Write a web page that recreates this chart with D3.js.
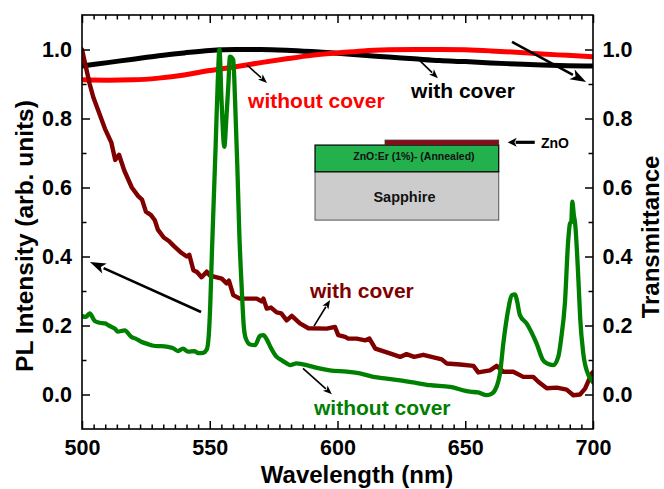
<!DOCTYPE html>
<html><head><meta charset="utf-8">
<script src="https://cdn.jsdelivr.net/npm/d3@7"></script>
<style>
body{margin:0;background:#fff}
svg{display:block}
text{font-family:"Liberation Sans",Arial,sans-serif;font-weight:bold}
</style>
</head><body>
<svg id="c" width="664" height="489"></svg>
<script>
// ---------- data ----------
const xTicks=[500,550,600,650,700];
const yTicks=[0,0.2,0.4,0.6,0.8,1.0];

// Transmittance, with cover (black)
const transWithCover=[[500,0.952],[510,0.962],[520,0.972],[530,0.982],[540,0.99],[550,0.997],[560,1.0],[570,1.0],[580,0.998],[590,0.994],[600,0.989],[610,0.983],[620,0.978],[630,0.973],[640,0.968],[650,0.965],[660,0.961],[670,0.958],[680,0.955],[690,0.953],[700,0.952]];
// Transmittance, without cover (red)
const transWithoutCover=[[500,0.912],[510,0.911],[520,0.912],[530,0.917],[540,0.926],[550,0.939],[560,0.95],[570,0.962],[580,0.973],[590,0.983],[600,0.99],[610,0.996],[620,0.999],[630,1.0],[640,1.0],[650,0.999],[660,0.996],[670,0.992],[680,0.987],[690,0.983],[700,0.979]];
// PL, with cover (dark red)
const plWithCover=[[500,1.0],[501.5,0.95],[503,0.9],[504.5,0.86],[506.5,0.82],[509,0.77],[511.5,0.73],[513,0.68],[514.5,0.695],[516.5,0.65],[519.5,0.6],[522,0.575],[523.5,0.565],[525,0.53],[527,0.52],[528.5,0.505],[529.7,0.478],[532,0.455],[534,0.445],[536,0.43],[539,0.41],[541,0.4],[542,0.405],[543.6,0.36],[545,0.355],[546.8,0.34],[548.8,0.356],[550,0.345],[552,0.341],[554.7,0.336],[556.6,0.322],[557.5,0.33],[559.2,0.288],[561.8,0.278],[568.4,0.278],[570.3,0.27],[571,0.278],[572.3,0.249],[574,0.252],[576.2,0.238],[578,0.235],[580.1,0.215],[582.1,0.228],[585.3,0.206],[588.6,0.192],[595.8,0.191],[599,0.196],[600.3,0.172],[603,0.167],[604.2,0.162],[607.5,0.162],[610.9,0.157],[612.5,0.162],[614.8,0.133],[620.5,0.119],[624.5,0.109],[627,0.117],[630,0.109],[633.6,0.115],[640.8,0.102],[642.7,0.09],[648,0.087],[653.2,0.083],[655.1,0.064],[659.7,0.07],[662.3,0.083],[664.9,0.066],[668.8,0.066],[672.7,0.051],[676.6,0.051],[678.6,0.037],[681.9,0.018],[685.8,0.02],[689.7,0.014],[692.3,-0.002],[694.9,0.0],[696.9,0.017],[699.5,0.061],[700,0.065]];
// PL, without cover (green)
const plWithoutCover=[[500,0.227],[501.5,0.225],[503,0.235],[505,0.213],[507,0.208],[509,0.206],[510.5,0.2],[511.5,0.196],[513,0.19],[514,0.182],[516.7,0.186],[519.3,0.167],[521,0.162],[523.2,0.153],[525.8,0.146],[527.5,0.142],[529.7,0.14],[531,0.14],[533.7,0.138],[535.5,0.135],[537.6,0.126],[539.5,0.133],[541.5,0.124],[544.1,0.126],[545.5,0.12],[547.4,0.121],[548.8,0.13],[549.6,0.17],[550.2,0.26],[550.8,0.4],[551.5,0.55],[552.3,0.72],[553.1,0.9],[553.8,1.0],[554.6,0.854],[555.7,0.718],[556.5,0.8],[557.3,0.9],[557.9,0.979],[559.2,0.97],[559.9,0.854],[560.8,0.66],[561.6,0.46],[562.5,0.31],[563.3,0.2],[564,0.165],[565.8,0.145],[567.7,0.143],[569.7,0.17],[571,0.172],[572.3,0.16],[573.6,0.14],[576.2,0.109],[578,0.1],[580.1,0.09],[581.4,0.085],[584,0.09],[586,0.088],[590.5,0.08],[592,0.077],[597,0.07],[603.6,0.066],[608.8,0.061],[614,0.051],[619.3,0.046],[624.5,0.041],[629.7,0.035],[636.2,0.027],[644,0.022],[651.9,0.008],[655,0.006],[658.4,-0.002],[660.5,0.003],[661.6,0.012],[663,0.04],[663.6,0.061],[664.9,0.148],[666.8,0.245],[668.2,0.288],[669.5,0.29],[670.3,0.27],[671.4,0.23],[674,0.206],[677.9,0.148],[680.5,0.099],[682,0.09],[684.4,0.085],[686.4,0.109],[687.5,0.16],[689,0.264],[690.3,0.447],[691,0.496],[691.5,0.5],[691.9,0.559],[692.5,0.52],[693,0.496],[694.3,0.331],[695,0.22],[696.2,0.119],[698,0.06],[699.5,0.041],[700,0.035]];

// ---------- layout ----------
const L=82,R=593,T=15,B=429;
const svg=d3.select("#c");
const x=d3.scaleLinear().domain([500,700]).range([L,R]);
const y=d3.scaleLinear().domain([-0.1,1.1]).range([B,T]);

const xMinor=[];
for(let i=0;i<xTicks.length-1;i++){const a=xTicks[i],b=xTicks[i+1];for(let k=1;k<=10;k++)xMinor.push(a+(b-a)*k/11);}
const yMinor=[];
for(let i=0;i<yTicks.length-1;i++)yMinor.push((yTicks[i]+yTicks[i+1])/2);

svg.append("defs").append("clipPath").attr("id","clip").append("rect")
  .attr("x",L).attr("y",T).attr("width",R-L).attr("height",B-T);

// ---------- lines ----------
const lineSmooth=d3.line().x(d=>x(d[0])).y(d=>y(d[1])).curve(d3.curveMonotoneX);
const lineRaw=d3.line().x(d=>x(d[0])).y(d=>y(d[1])).curve(d3.curveLinear);
const gL=svg.append("g").attr("clip-path","url(#clip)");
function draw(data,gen,color,w){
  gL.append("path").attr("d",gen(data)).attr("fill","none").attr("stroke",color)
    .attr("stroke-width",w).attr("stroke-linejoin","round").attr("stroke-linecap","round");
}
draw(transWithCover,lineSmooth,"#000000",5);
draw(transWithoutCover,lineSmooth,"#ff0000",5);
draw(plWithCover,lineRaw,"#800000",4.4);
draw(plWithoutCover,lineSmooth,"#008000",4.3);

// ---------- axes ----------
function styleAxis(g,fs){
  g.select(".domain").remove();
  g.selectAll(".tick line").attr("stroke","#000").attr("stroke-width",1.5);
  g.selectAll("text").attr("font-size",fs).attr("fill","#000")
   .attr("font-family",'"Liberation Sans",Arial,sans-serif').attr("font-weight","bold");
}
const tickFS=21.5;
svg.append("g").attr("transform",`translate(0,${B})`)
  .call(d3.axisBottom(x).tickValues(xTicks).tickSizeInner(-8).tickSizeOuter(0).tickPadding(11).tickFormat(d3.format("d")))
  .call(g=>styleAxis(g,tickFS));
svg.append("g").attr("transform",`translate(0,${B})`)
  .call(d3.axisBottom(x).tickValues(xMinor).tickSizeInner(-4.5).tickSizeOuter(0).tickFormat(""))
  .call(g=>styleAxis(g,tickFS));
svg.append("g").attr("transform",`translate(0,${T})`)
  .call(d3.axisTop(x).tickValues(xTicks).tickSizeInner(-8).tickSizeOuter(0).tickFormat(""))
  .call(g=>styleAxis(g,tickFS));
svg.append("g").attr("transform",`translate(0,${T})`)
  .call(d3.axisTop(x).tickValues(xMinor).tickSizeInner(-4.5).tickSizeOuter(0).tickFormat(""))
  .call(g=>styleAxis(g,tickFS));
svg.append("g").attr("transform",`translate(${L},0)`)
  .call(d3.axisLeft(y).tickValues(yTicks).tickSizeInner(-8).tickSizeOuter(0).tickPadding(10).tickFormat(d3.format(".1f")))
  .call(g=>styleAxis(g,tickFS));
svg.append("g").attr("transform",`translate(${L},0)`)
  .call(d3.axisLeft(y).tickValues(yMinor).tickSizeInner(-4.5).tickSizeOuter(0).tickFormat(""))
  .call(g=>styleAxis(g,tickFS));
svg.append("g").attr("transform",`translate(${R},0)`)
  .call(d3.axisRight(y).tickValues(yTicks).tickSizeInner(-8).tickSizeOuter(0).tickPadding(9.5).tickFormat(d3.format(".1f")))
  .call(g=>styleAxis(g,tickFS));
svg.append("g").attr("transform",`translate(${R},0)`)
  .call(d3.axisRight(y).tickValues(yMinor).tickSizeInner(-4.5).tickSizeOuter(0).tickFormat(""))
  .call(g=>styleAxis(g,tickFS));

svg.append("rect").attr("x",L).attr("y",T).attr("width",R-L).attr("height",B-T)
  .attr("fill","none").attr("stroke","#000").attr("stroke-width",1.6);

// titles
svg.append("text").attr("x",357).attr("y",482.5).attr("text-anchor","middle")
  .attr("font-size",24).text("Wavelength (nm)");
svg.append("text").attr("transform","translate(33,236) rotate(-90)").attr("text-anchor","middle")
  .attr("font-size",24.5).text("PL Intensity (arb. units)");
svg.append("text").attr("transform","translate(659,237) rotate(-90)").attr("text-anchor","middle")
  .attr("font-size",24).text("Transmittance");

// ---------- annotations ----------
function arrow(w1,v1,w2,v2,lw,hl,hw,color){
  const x1=x(w1),y1=y(v1),x2=x(w2),y2=y(v2);
  const dx=x2-x1,dy=y2-y1,len=Math.hypot(dx,dy),ux=dx/len,uy=dy/len;
  const bx=x2-ux*hl,by=y2-uy*hl;
  svg.append("line").attr("x1",x1).attr("y1",y1).attr("x2",bx+ux*1).attr("y2",by+uy*1)
    .attr("stroke",color).attr("stroke-width",lw);
  const px=-uy,py=ux;
  svg.append("path").attr("d",`M${x2},${y2}L${bx+px*hw/2},${by+py*hw/2}L${bx+ux*hl*0.25},${by+uy*hl*0.25}L${bx-px*hw/2},${by-py*hw/2}Z`)
    .attr("fill",color);
}
arrow(564.6,0.955,572.4,0.903,1.6,9,7,"#000");
arrow(632.3,0.967,639.3,0.917,1.6,9,7,"#000");
arrow(668.3,1.022,697.3,0.906,2.6,16,11,"#000");
arrow(546.6,0.239,503.1,0.384,2.6,16,11,"#000");
arrow(590.8,0.198,597.1,0.274,1.6,9,7,"#000");
arrow(586.5,0.076,597.8,0.001,1.6,9,7,"#000");

const labFS=21;
svg.append("text").attr("x",x(565)).attr("y",y(0.831)).attr("font-size",labFS).attr("fill","#ff0000").text("without cover");
svg.append("text").attr("x",x(628.8)).attr("y",y(0.859)).attr("font-size",labFS).attr("fill","#000").text("with cover");
svg.append("text").attr("x",x(589.2)).attr("y",y(0.279)).attr("font-size",labFS).attr("fill","#800000").text("with cover");
svg.append("text").attr("x",x(590.8)).attr("y",y(-0.06)).attr("font-size",labFS).attr("fill","#008000").text("without cover");

// ---------- inset schematic ----------
const gi=svg.append("g");
gi.append("rect").attr("x",x(591.2)).attr("y",y(0.6456)).attr("width",x(663.1)-x(591.2)).attr("height",y(0.5055)-y(0.6456))
  .attr("fill","#cccccc").attr("stroke","#555").attr("stroke-width",1);
gi.append("rect").attr("x",x(591.2)).attr("y",y(0.723)).attr("width",x(663.1)-x(591.2)).attr("height",y(0.6456)-y(0.723))
  .attr("fill","#22b14c").attr("stroke","#000").attr("stroke-width",1.2);
gi.append("rect").attr("x",x(618.6)).attr("y",y(0.7375)).attr("width",x(663.1)-x(618.6)).attr("height",y(0.723)-y(0.7375))
  .attr("fill","#8b0a1a").attr("stroke","#333").attr("stroke-width",0.8);
gi.append("text").attr("x",x(629.9)).attr("y",y(0.681)).attr("text-anchor","middle").attr("font-size",10.5).attr("fill","#111").text("ZnO:Er (1%)- (Annealed)");
gi.append("text").attr("x",x(626.2)).attr("y",y(0.558)).attr("text-anchor","middle").attr("font-size",14.5).attr("fill","#111").text("Sapphire");
arrow(677.2,0.731,666.6,0.731,3.2,9,9,"#000");
gi.append("text").attr("x",x(679.6)).attr("y",y(0.714)).attr("font-size",14).attr("font-weight","normal").attr("fill","#000").text("ZnO");
</script>
</body></html>
